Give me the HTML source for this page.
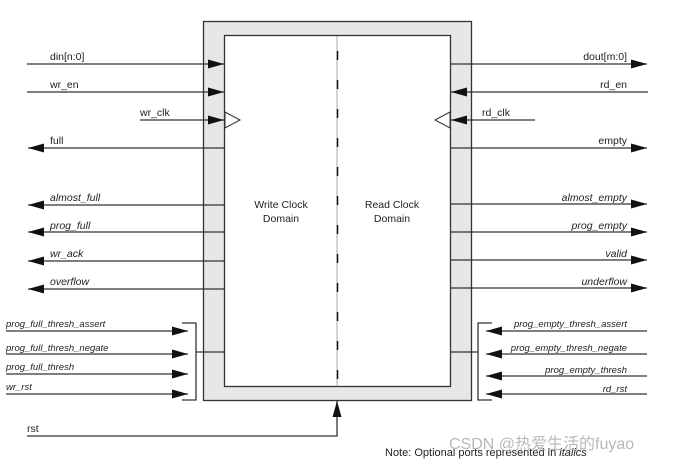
<!DOCTYPE html>
<html><head><meta charset="utf-8"><style>
html,body{margin:0;padding:0;background:#fff;}
svg{display:block;}
text{font-family:"Liberation Sans",Arial,sans-serif;font-size:10.5px;fill:#222;}
.i{font-style:italic;}
</style></head><body>
<svg width="683" height="463" viewBox="0 0 683 463" xmlns="http://www.w3.org/2000/svg">
<defs>
<marker id="a" viewBox="0 0 16 9" refX="16" refY="4.5" markerWidth="16" markerHeight="9" markerUnits="userSpaceOnUse" orient="auto" preserveAspectRatio="none"><path d="M0,0L16,4.5L0,9z" fill="#111"/></marker>
</defs>
<rect x="203.5" y="21.5" width="268" height="379" fill="#e6e7e8" stroke="#333" stroke-width="1.3"/>
<rect x="224.5" y="35.5" width="226" height="351" fill="#fff" stroke="#333" stroke-width="1.3"/>
<line x1="337" y1="36" x2="337" y2="386" stroke="#aaa" stroke-width="1"/>
<line x1="337.5" y1="51" x2="337.5" y2="386" stroke="#111" stroke-width="1.5" stroke-dasharray="9 20"/>
<polygon points="225,112 240,120 225,128" fill="#fff" stroke="#333"/>
<polygon points="450,112 435,120 450,128" fill="#fff" stroke="#333"/>
<text x="281" y="208" text-anchor="middle">Write Clock</text>
<text x="281" y="222" text-anchor="middle">Domain</text>
<text x="392" y="208" text-anchor="middle">Read Clock</text>
<text x="392" y="222" text-anchor="middle">Domain</text>
<g stroke="#333" stroke-width="1.3" fill="none">
<line x1="27" y1="64" x2="224" y2="64" marker-end="url(#a)"/>
<line x1="27" y1="92" x2="224" y2="92" marker-end="url(#a)"/>
<line x1="140" y1="120" x2="224" y2="120" marker-end="url(#a)"/>
<line x1="224" y1="148" x2="28" y2="148" marker-end="url(#a)"/>
<line x1="224" y1="205" x2="28" y2="205" marker-end="url(#a)"/>
<line x1="224" y1="232" x2="28" y2="232" marker-end="url(#a)"/>
<line x1="224" y1="261" x2="28" y2="261" marker-end="url(#a)"/>
<line x1="224" y1="289" x2="28" y2="289" marker-end="url(#a)"/>
<line x1="451" y1="64" x2="647" y2="64" marker-end="url(#a)"/>
<line x1="648" y1="92" x2="451" y2="92" marker-end="url(#a)"/>
<line x1="535" y1="120" x2="451" y2="120" marker-end="url(#a)"/>
<line x1="451" y1="148" x2="647" y2="148" marker-end="url(#a)"/>
<line x1="451" y1="204" x2="647" y2="204" marker-end="url(#a)"/>
<line x1="451" y1="232" x2="647" y2="232" marker-end="url(#a)"/>
<line x1="451" y1="260" x2="647" y2="260" marker-end="url(#a)"/>
<line x1="451" y1="288" x2="647" y2="288" marker-end="url(#a)"/>
<line x1="6" y1="331" x2="188" y2="331" marker-end="url(#a)"/>
<line x1="6" y1="354" x2="188" y2="354" marker-end="url(#a)"/>
<line x1="6" y1="374" x2="188" y2="374" marker-end="url(#a)"/>
<line x1="6" y1="394" x2="188" y2="394" marker-end="url(#a)"/>
<polyline points="182,323 196,323 196,400 182,400"/>
<line x1="196" y1="352" x2="224" y2="352"/>
<line x1="647" y1="331" x2="486" y2="331" marker-end="url(#a)"/>
<line x1="647" y1="354" x2="486" y2="354" marker-end="url(#a)"/>
<line x1="647" y1="376" x2="486" y2="376" marker-end="url(#a)"/>
<line x1="647" y1="394" x2="486" y2="394" marker-end="url(#a)"/>
<polyline points="492,323 478,323 478,400 492,400"/>
<line x1="451" y1="352" x2="478" y2="352"/>
<polyline points="27,436 337,436 337,401" marker-end="url(#a)"/>
</g>
<text x="50" y="60">din[n:0]</text>
<text x="50" y="88">wr_en</text>
<text x="140" y="116">wr_clk</text>
<text x="50" y="144">full</text>
<text x="50" y="201" class="i">almost_full</text>
<text x="50" y="229" class="i">prog_full</text>
<text x="50" y="257" class="i">wr_ack</text>
<text x="50" y="285" class="i">overflow</text>
<text x="627" y="60" text-anchor="end">dout[m:0]</text>
<text x="627" y="88" text-anchor="end">rd_en</text>
<text x="482" y="116">rd_clk</text>
<text x="627" y="144" text-anchor="end">empty</text>
<text x="627" y="201" class="i" text-anchor="end">almost_empty</text>
<text x="627" y="229" class="i" text-anchor="end">prog_empty</text>
<text x="627" y="257" class="i" text-anchor="end">valid</text>
<text x="627" y="285" class="i" text-anchor="end">underflow</text>
<text x="6" y="327" class="i" style="font-size:9.5px">prog_full_thresh_assert</text>
<text x="6" y="351" class="i" style="font-size:9.5px">prog_full_thresh_negate</text>
<text x="6" y="370" class="i" style="font-size:9.5px">prog_full_thresh</text>
<text x="6" y="390" class="i" style="font-size:9.5px">wr_rst</text>
<text x="627" y="327" class="i" text-anchor="end" style="font-size:9.5px">prog_empty_thresh_assert</text>
<text x="627" y="351" class="i" text-anchor="end" style="font-size:9.5px">prog_empty_thresh_negate</text>
<text x="627" y="373" class="i" text-anchor="end" style="font-size:9.5px">prog_empty_thresh</text>
<text x="627" y="392" class="i" text-anchor="end" style="font-size:9.5px">rd_rst</text>
<text x="27" y="432">rst</text>
<text x="385" y="456" style="font-size:11px">Note: Optional ports represented in <tspan class="i">italics</tspan></text>
<text x="449" y="449" style="font-size:16px;fill:#b8b8b8;font-family:'Liberation Sans','Noto Sans CJK SC',sans-serif">CSDN @热爱生活的fuyao</text>
</svg>
</body></html>
